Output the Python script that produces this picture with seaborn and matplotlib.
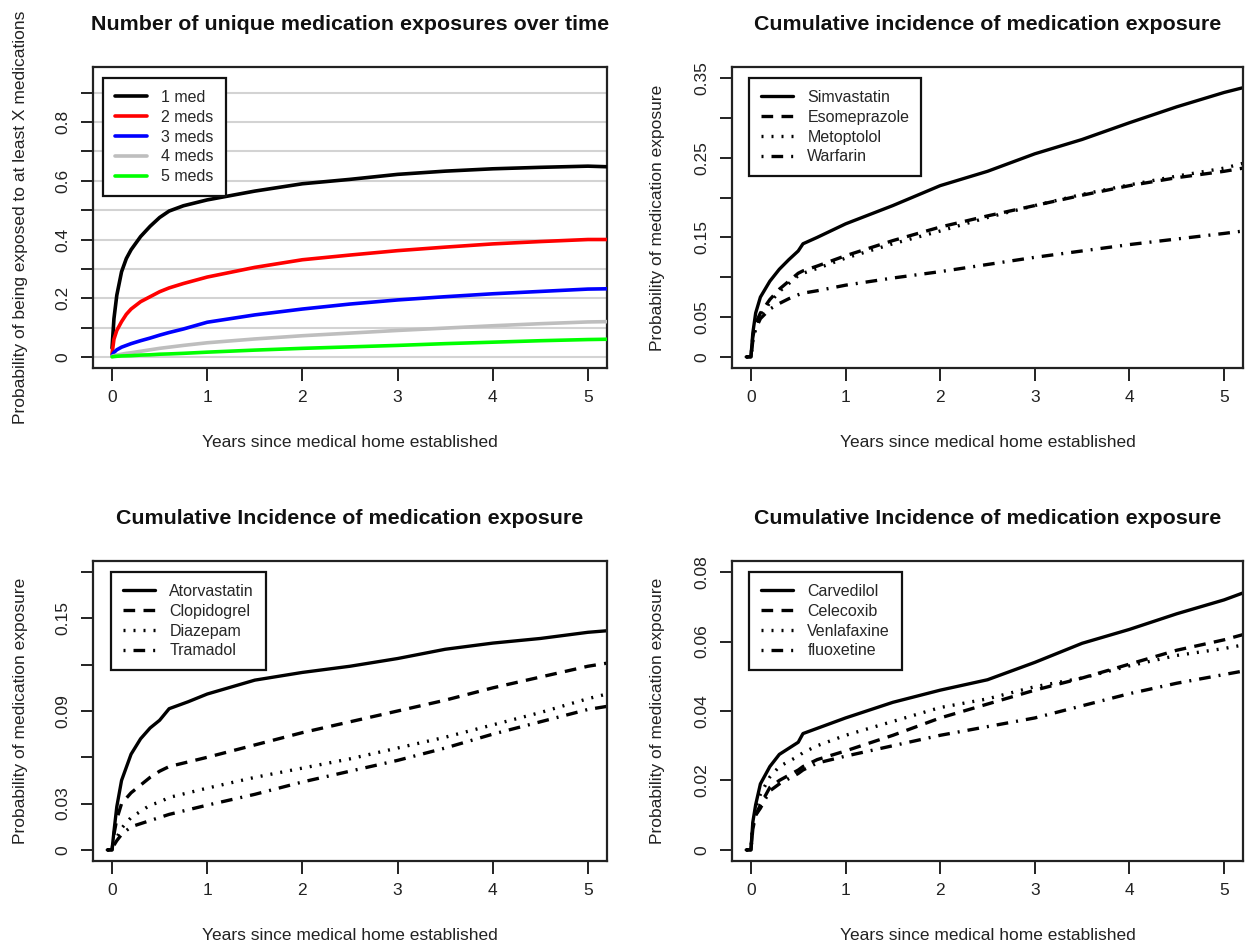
import matplotlib
matplotlib.use("Agg")
import matplotlib.pyplot as plt
import seaborn as sns
import pandas as pd
import numpy as np

# ---------------- data ----------------
x_p1 = [0, 0.02, 0.05, 0.1, 0.15, 0.2, 0.3, 0.4, 0.5, 0.6, 0.75, 1.0, 1.5, 2.0, 2.5, 3.0, 3.5, 4.0, 4.5, 5.0, 5.2]
med1 = [0.03, 0.13, 0.21, 0.29, 0.335, 0.365, 0.41, 0.445, 0.475, 0.497, 0.515, 0.535, 0.565, 0.59, 0.605, 0.622, 0.633, 0.641, 0.646, 0.65, 0.648]
med2 = [0.01, 0.06, 0.09, 0.12, 0.145, 0.163, 0.188, 0.205, 0.222, 0.235, 0.25, 0.272, 0.305, 0.331, 0.347, 0.362, 0.374, 0.385, 0.393, 0.40, 0.40]
med3 = [0.005, 0.015, 0.024, 0.033, 0.039, 0.045, 0.055, 0.064, 0.074, 0.083, 0.095, 0.118, 0.143, 0.163, 0.18, 0.194, 0.205, 0.215, 0.223, 0.231, 0.232]
med4 = [0.002, 0.004, 0.006, 0.009, 0.012, 0.014, 0.019, 0.024, 0.029, 0.033, 0.039, 0.048, 0.061, 0.072, 0.081, 0.09, 0.098, 0.106, 0.113, 0.119, 0.12]
med5 = [0.0, 0.001, 0.002, 0.003, 0.0035, 0.004, 0.006, 0.007, 0.009, 0.010, 0.012, 0.016, 0.023, 0.029, 0.034, 0.039, 0.045, 0.05, 0.055, 0.059, 0.06]
p1_labels = ["1 med", "2 meds", "3 meds", "4 meds", "5 meds"]
p1_colors = ["#000000", "#FF0000", "#0000FF", "#BEBEBE", "#00FF00"]

x_p2 = [-0.05, 0.0, 0.02, 0.05, 0.1, 0.2, 0.3, 0.4, 0.5, 0.55, 0.7, 1.0, 1.5, 2.0, 2.5, 3.0, 3.5, 4.0, 4.5, 5.0, 5.2]
simvastatin = [0, 0, 0.03, 0.055, 0.075, 0.095, 0.11, 0.122, 0.133, 0.142, 0.150, 0.167, 0.19, 0.215, 0.233, 0.255, 0.273, 0.294, 0.314, 0.332, 0.338]
esomeprazole = [0, 0, 0.025, 0.042, 0.055, 0.072, 0.085, 0.095, 0.105, 0.108, 0.114, 0.127, 0.146, 0.163, 0.177, 0.19, 0.203, 0.215, 0.225, 0.233, 0.237]
metoprolol = [0, 0, 0.022, 0.038, 0.052, 0.068, 0.082, 0.092, 0.102, 0.105, 0.111, 0.124, 0.142, 0.158, 0.175, 0.19, 0.204, 0.216, 0.227, 0.237, 0.243]
warfarin = [0, 0, 0.02, 0.035, 0.048, 0.060, 0.067, 0.073, 0.078, 0.080, 0.083, 0.090, 0.099, 0.107, 0.116, 0.125, 0.133, 0.141, 0.148, 0.155, 0.158]
p2_labels = ["Simvastatin", "Esomeprazole", "Metoptolol", "Warfarin"]

x_p3 = [-0.05, 0.0, 0.02, 0.05, 0.1, 0.2, 0.3, 0.4, 0.5, 0.6, 0.8, 1.0, 1.5, 2.0, 2.5, 3.0, 3.5, 4.0, 4.5, 5.0, 5.2]
atorvastatin = [0, 0, 0.012, 0.028, 0.045, 0.062, 0.072, 0.079, 0.084, 0.0915, 0.096, 0.101, 0.11, 0.115, 0.119, 0.124, 0.13, 0.134, 0.137, 0.141, 0.142]
clopidogrel = [0, 0, 0.01, 0.02, 0.03, 0.037, 0.042, 0.047, 0.051, 0.054, 0.057, 0.06, 0.068, 0.076, 0.083, 0.09, 0.097, 0.105, 0.112, 0.119, 0.121]
diazepam = [0, 0, 0.004, 0.008, 0.014, 0.021, 0.025, 0.029, 0.031, 0.034, 0.037, 0.04, 0.047, 0.053, 0.059, 0.066, 0.073, 0.081, 0.089, 0.098, 0.101]
tramadol = [0, 0, 0.003, 0.006, 0.01, 0.015, 0.017, 0.019, 0.021, 0.023, 0.026, 0.029, 0.036, 0.044, 0.051, 0.058, 0.066, 0.075, 0.083, 0.091, 0.093]
p3_labels = ["Atorvastatin", "Clopidogrel", "Diazepam", "Tramadol"]

x_p4 = [-0.05, 0.0, 0.02, 0.05, 0.1, 0.2, 0.3, 0.5, 0.55, 0.7, 1.0, 1.5, 2.0, 2.5, 3.0, 3.5, 4.0, 4.5, 5.0, 5.2]
carvedilol = [0, 0, 0.008, 0.013, 0.019, 0.024, 0.0275, 0.031, 0.0335, 0.035, 0.038, 0.0425, 0.046, 0.049, 0.054, 0.0595, 0.0635, 0.068, 0.072, 0.074]
celecoxib = [0, 0, 0.006, 0.01, 0.013, 0.018, 0.02, 0.023, 0.024, 0.026, 0.0285, 0.033, 0.038, 0.042, 0.046, 0.0495, 0.0535, 0.0575, 0.0605, 0.062]
venlafaxine = [0, 0, 0.007, 0.012, 0.016, 0.021, 0.024, 0.027, 0.028, 0.03, 0.033, 0.037, 0.041, 0.0435, 0.047, 0.0495, 0.053, 0.056, 0.058, 0.059]
fluoxetine = [0, 0, 0.007, 0.01, 0.012, 0.017, 0.019, 0.022, 0.023, 0.025, 0.027, 0.030, 0.033, 0.0355, 0.038, 0.0415, 0.045, 0.048, 0.0505, 0.0515]
p4_labels = ["Carvedilol", "Celecoxib", "Venlafaxine", "fluoxetine"]

x_ticks = [0, 1, 2, 3, 4, 5]
p1_yticks = [0, 0.1, 0.2, 0.3, 0.4, 0.5, 0.6, 0.7, 0.8, 0.9]
p1_ylabels = ["0", "", "0.2", "", "0.4", "", "0.6", "", "0.8", ""]
p2_yticks = [0, 0.05, 0.10, 0.15, 0.20, 0.25, 0.30, 0.35]
p2_ylabels = ["0", "0.05", "", "0.15", "", "0.25", "", "0.35"]
p3_yticks = [0, 0.03, 0.06, 0.09, 0.12, 0.15, 0.18]
p3_ylabels = ["0", "0.03", "", "0.09", "", "0.15", ""]
p4_yticks = [0, 0.02, 0.04, 0.06, 0.08]
p4_ylabels = ["0", "0.02", "0.04", "0.06", "0.08"]

titles = ["Number of unique medication exposures over time",
          "Cumulative incidence of medication exposure",
          "Cumulative Incidence of medication exposure",
          "Cumulative Incidence of medication exposure"]
xlabel = "Years since medical home established"
ylabel1 = "Probability of being exposed to at least X medications"
ylabel2 = "Probability of medication exposure"

# ---------------- style ----------------
sns.set_style("white")
plt.rcParams["font.family"] = ["Liberation Sans", "DejaVu Sans"]

W, H = 1248, 948
fig = plt.figure(figsize=(W / 100, H / 100), dpi=100)

def add_axes(l, t, r, b):
    return fig.add_axes([l / W, 1 - b / H, (r - l) / W, (b - t) / H])

ax1 = add_axes(93, 67, 607, 368)
ax2 = add_axes(732, 67, 1243, 368)
ax3 = add_axes(93, 561, 607, 861)
ax4 = add_axes(732, 561, 1243, 861)

line_styles = ["-", (0, (3.5, 2.5)), (0, (0.6, 2.4)), (0, (0.6, 2.4, 3.5, 2.4))]

def style_axes(ax, title, ylab, yticks, ylabels, ylim, ylab_x):
    ax.set_xlim(-0.2, 5.2)
    ax.set_ylim(*ylim)
    ax.set_xticks(x_ticks)
    ax.set_xticklabels([str(v) for v in x_ticks])
    ax.set_yticks(yticks)
    ax.set_yticklabels(ylabels, rotation=90, va="center")
    ax.tick_params(axis="both", direction="out", length=9, width=1.4,
                   color="#222222", labelsize=12.5, labelcolor="#222222", pad=7,
                   bottom=True, left=True)
    ax.tick_params(axis="y", pad=7)
    for s in ax.spines.values():
        s.set_visible(True)
        s.set_linewidth(1.6)
        s.set_color("#222222")
    ax.set_title(title, fontsize=15.4, fontweight="bold", y=1 + 42 / 300, pad=0,
                 va="center", color="#111111")
    ax.set_xlabel(xlabel, fontsize=12.5, color="#222222", va="center")
    ax.xaxis.set_label_coords(0.5, -74 / 300)
    ax.set_ylabel(ylab, fontsize=12.5, color="#222222", va="center")
    ax.yaxis.set_label_coords(ylab_x, 0.5)
    ax.grid(False)

def add_legend(ax, frame_box):
    leg = ax.legend(loc="upper left", bbox_to_anchor=frame_box, fontsize=11.5,
                    frameon=True, fancybox=False, framealpha=1, edgecolor="#111111",
                    handlelength=2.0, handletextpad=0.9, labelspacing=0.3,
                    borderpad=0.75, borderaxespad=0)
    leg.get_frame().set_linewidth(1.6)
    return leg

# ---------------- panel 1 ----------------
for yv in p1_yticks:
    ax1.axhline(yv, color="#D3D3D3", lw=1.5, zorder=0)
df1 = pd.DataFrame({"x": x_p1 * 5,
                    "y": med1 + med2 + med3 + med4 + med5,
                    "group": sum([[lab] * len(x_p1) for lab in p1_labels], [])})
sns.lineplot(data=df1, x="x", y="y", hue="group", hue_order=p1_labels,
             palette=p1_colors, estimator=None, sort=False, lw=2.6, ax=ax1, zorder=3)
style_axes(ax1, titles[0], ylabel1, p1_yticks, p1_ylabels, (-0.038, 0.988), -0.142)
add_legend(ax1, ((103 - 93) / 514, 1 - (78 - 67) / 301))

# ---------------- panels 2-4 ----------------
def bw_panel(ax, xs, series, labels):
    for ys, lab, ls in zip(series, labels, line_styles):
        sns.lineplot(x=xs, y=ys, ax=ax, color="black", lw=2.4, linestyle=ls,
                     estimator=None, sort=False, label=lab)

bw_panel(ax2, x_p2, [simvastatin, esomeprazole, metoprolol, warfarin], p2_labels)
style_axes(ax2, titles[1], ylabel2, p2_yticks, p2_ylabels, (-0.014, 0.364), -0.145)
add_legend(ax2, ((749 - 732) / 511, 1 - (78 - 67) / 301))

bw_panel(ax3, x_p3, [atorvastatin, clopidogrel, diazepam, tramadol], p3_labels)
style_axes(ax3, titles[2], ylabel2, p3_yticks, p3_ylabels, (-0.0072, 0.1872), -0.142)
add_legend(ax3, ((111 - 93) / 514, 1 - (572 - 561) / 300))

bw_panel(ax4, x_p4, [carvedilol, celecoxib, venlafaxine, fluoxetine], p4_labels)
style_axes(ax4, titles[3], ylabel2, p4_yticks, p4_ylabels, (-0.0032, 0.0832), -0.145)
add_legend(ax4, ((749 - 732) / 511, 1 - (572 - 561) / 300))

fig.savefig("out.png", dpi=100, facecolor="white")
